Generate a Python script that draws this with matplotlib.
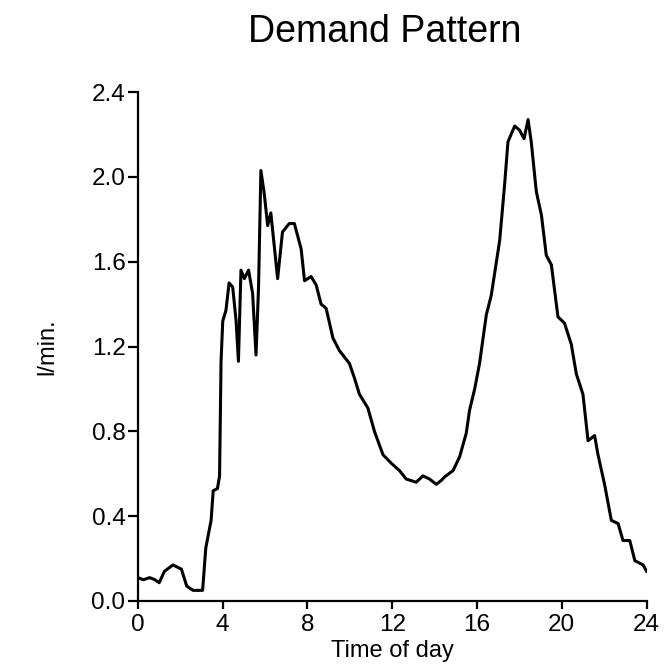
import numpy as np
import matplotlib
matplotlib.use("Agg")
import matplotlib.pyplot as plt

# demand curve (hour of day, l/min)
hours = [0.0, 0.25, 0.55, 0.8, 1.0, 1.25, 1.65, 2.05, 2.3, 2.6, 3.05, 3.2, 3.45,
         3.55, 3.75, 3.85, 3.92, 4.0, 4.15, 4.3, 4.47, 4.63, 4.74, 4.86, 5.02,
         5.22, 5.41, 5.57, 5.69, 5.8, 5.96, 6.12, 6.27, 6.59, 6.82, 7.14, 7.38,
         7.7, 7.86, 8.17, 8.41, 8.64, 8.88, 9.2, 9.51, 9.98, 10.22, 10.45,
         10.85, 11.16, 11.56, 11.95, 12.34, 12.66, 13.13, 13.45, 13.76, 14.08,
         14.31, 14.47, 14.87, 15.18, 15.49, 15.65, 15.89, 16.12, 16.44, 16.67,
         17.07, 17.3, 17.46, 17.78, 18.01, 18.22, 18.41, 18.56, 18.8, 19.04,
         19.27, 19.51, 19.82, 20.13, 20.45, 20.69, 21.0, 21.24, 21.55, 21.71,
         22.02, 22.34, 22.66, 22.89, 23.21, 23.45, 23.84, 24.0]
demand = [0.11, 0.10, 0.11, 0.10, 0.086, 0.14, 0.17, 0.15, 0.07, 0.05, 0.05,
          0.25, 0.38, 0.52, 0.53, 0.59, 1.13, 1.32, 1.37, 1.50, 1.48, 1.32,
          1.13, 1.56, 1.52, 1.56, 1.45, 1.16, 1.48, 2.03, 1.92, 1.77, 1.83,
          1.52, 1.74, 1.78, 1.78, 1.66, 1.51, 1.53, 1.49, 1.40, 1.38, 1.24,
          1.18, 1.12, 1.05, 0.975, 0.91, 0.80, 0.69, 0.65, 0.615, 0.575, 0.56,
          0.59, 0.575, 0.55, 0.568, 0.585, 0.615, 0.68, 0.79, 0.90, 1.0, 1.12,
          1.35, 1.44, 1.70, 1.96, 2.165, 2.24, 2.22, 2.18, 2.27, 2.165, 1.93,
          1.82, 1.63, 1.585, 1.34, 1.31, 1.21, 1.07, 0.975, 0.756, 0.78, 0.69,
          0.55, 0.38, 0.365, 0.285, 0.285, 0.19, 0.17, 0.14]

x_ticks = [0, 4, 8, 12, 16, 20, 24]
y_ticks = [0.0, 0.4, 0.8, 1.2, 1.6, 2.0, 2.4]

plt.rcParams['font.family'] = ['Liberation Sans', 'DejaVu Sans']

fig = plt.figure(figsize=(6.65, 6.67), dpi=100)
ax = fig.add_axes([0.2075, 0.099, 0.7647, 0.763])

ax.plot(hours, demand, color="black", linewidth=2.2)

ax.set_xlim(0, 24)
ax.set_ylim(0, 2.4)
ax.set_xticks(x_ticks)
ax.set_yticks(y_ticks)
ax.set_yticklabels(["{0:.1f}".format(v) for v in y_ticks])
ax.spines['top'].set_visible(False)
ax.spines['right'].set_visible(False)
ax.spines['left'].set_linewidth(1.6)
ax.spines['bottom'].set_linewidth(1.6)
ax.tick_params(axis='x', length=5.5, width=1.6, pad=4, labelsize=17.5)
ax.tick_params(axis='y', length=7, width=1.6, pad=2, labelsize=17.5)

ax.set_xlabel("Time of day", fontsize=17, labelpad=3)
ax.set_ylabel("l/min.", fontsize=17, labelpad=24)
fig.text(0.579, 1 - 42 / 667, "Demand Pattern", fontsize=27, ha="center", va="baseline")

fig.savefig("out.png", dpi=100)
